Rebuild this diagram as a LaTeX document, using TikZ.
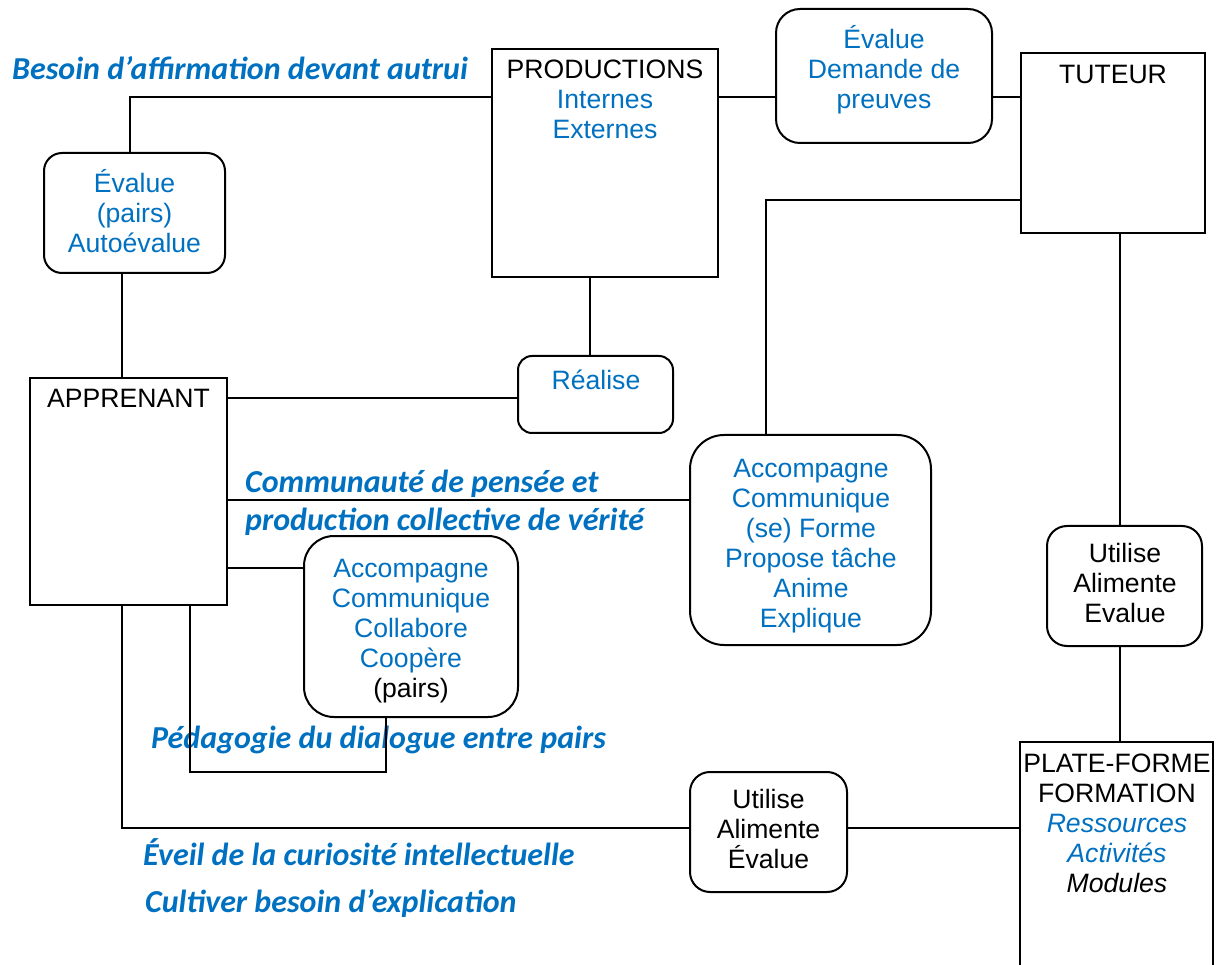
\documentclass[tikz,border=0pt]{standalone}
\usepackage{fontspec}
\setmainfont{Liberation Sans}
\newfontfamily\calfont{Carlito}
\definecolor{wblue}{HTML}{0070C0}
\tikzset{
  sq/.style={draw, line width=2pt, inner sep=0pt, outer sep=0pt},
  rnd/.style={sq, rounded corners=#1},
  txt/.style={anchor=north, align=center, inner sep=0pt, font=\fontsize{26.6}{30}\selectfont},
  bi/.style={inner sep=0pt, text=wblue, font=\calfont\bfseries\itshape\fontsize{32}{38}\selectfont},
  conn/.style={line width=2pt}
}
\begin{document}
\begin{tikzpicture}[x=1pt,y=-1pt]
\useasboundingbox (0,0) rectangle (1219,965);
\clip (0,0) rectangle (1219,965);
% boxes
\node[sq, minimum width=226pt, minimum height=228pt] (prod) at (605,163) {};
\node[rnd=18pt, minimum width=181pt, minimum height=120pt] (evL) at (134.5,213) {};
\node[rnd=24pt, minimum width=216pt, minimum height=134pt] (evT) at (884,76) {};
\node[sq, minimum width=184pt, minimum height=180pt] (tut) at (1113,143) {};
\node[sq, minimum width=197pt, minimum height=227pt] (app) at (128.5,491.5) {};
\node[rnd=14pt, minimum width=155pt, minimum height=77pt] (real) at (595.5,394.5) {};
\node[rnd=30pt, minimum width=214pt, minimum height=181pt] (pairs) at (411,626.5) {};
\node[rnd=34pt, minimum width=241pt, minimum height=210pt] (accR) at (810.5,540) {};
\node[rnd=20pt, minimum width=155pt, minimum height=120pt] (utR) at (1124.5,586) {};
\node[rnd=20pt, minimum width=157pt, minimum height=120pt] (utB) at (768.5,832) {};
\node[sq, minimum width=193pt, minimum height=260pt] (pf) at (1116.5,872) {};
% texts in boxes
\node[txt] (tprod) at (605,57) {\strut PRODUCTIONS\\\textcolor{wblue}{Internes}\\\textcolor{wblue}{Externes}};
\node[txt, text=wblue] (tevL) at (134.5,169) {\strut Évalue\\(pairs)\\Autoévalue};
\node[txt, text=wblue] (tevT) at (884,25) {\strut Évalue\\Demande de\\preuves};
\node[txt] (ttut) at (1113,62) {\strut TUTEUR};
\node[txt] (tapp) at (128.5,386) {\strut APPRENANT};
\node[txt, text=wblue] (treal) at (596,368) {\strut Réalise};
\node[txt] (tpairs) at (411,556) {\strut\textcolor{wblue}{Accompagne}\\\textcolor{wblue}{Communique}\\\textcolor{wblue}{Collabore}\\\textcolor{wblue}{Coopère}\\(pairs)};
\node[txt, text=wblue] (taccR) at (811,456) {\strut Accompagne\\Communique\\(se) Forme\\Propose tâche\\Anime\\Explique};
\node[txt] (tutR) at (1125,541) {\strut Utilise\\Alimente\\Evalue};
\node[txt] (tutB) at (768.5,787) {\strut Utilise\\Alimente\\Évalue};
\node[txt] (tpf) at (1117,751) {\strut PLATE-FORME\\FORMATION\\\textcolor{wblue}{\itshape Ressources}\\\textcolor{wblue}{\itshape Activités}\\\itshape Modules};
% free labels
\node[bi, anchor=base west] (lb1) at (12,80) {Besoin d’affirmation devant autrui};
\node[bi, anchor=north west, align=left] (lb2) at (245,465.4) {\strut Communauté de pensée et\\production collective de vérité};
\node[bi, anchor=base west] (lb3) at (151,748) {Pédagogie du dialogue entre pairs};
\node[bi, anchor=base west] (lb4) at (143,865) {Éveil de la curiosité intellectuelle};
\node[bi, anchor=base west] (lb5) at (145,912) {Cultiver besoin d’explication};
% helper coordinates
\coordinate (c1) at (130,97.5);
\coordinate (c2) at (122,200);
\coordinate (c3) at (766,200);
\coordinate (c4) at (1119.5,398);
\coordinate (c5) at (590,500);
\coordinate (c6) at (386,568);
\coordinate (c7) at (190,772);
\coordinate (c8) at (122,828);
% connectors
\draw[conn] (evL.north -| c1) |- (prod.west |- c1);
\draw[conn] (evL.south -| c2) -- (app.north -| c2);
\draw[conn] (prod.east |- c1) -- (evT.west |- c1);
\draw[conn] (evT.east |- c1) -- (tut.west |- c1);
\draw[conn] (tut.west |- c3) -| (accR.north -| c3);
\draw[conn] (tut.south -| c4) -- (utR.north -| c4);
\draw[conn] (utR.south -| c4) -- (pf.north -| c4);
\draw[conn] (prod.south -| c5) -- (real.north -| c5);
\draw[conn] (app.east |- c4) -- (real.west |- c4);
\draw[conn] (app.east |- c5) -- (accR.west |- c5);
\draw[conn] (app.east |- c6) -- (pairs.west |- c6);
\draw[conn] (pairs.south -| c6) |- (c7) -- (app.south -| c7);
\draw[conn] (app.south -| c8) |- (utB.west |- c8);
\draw[conn] (utB.east |- c8) -- (pf.west |- c8);
\end{tikzpicture}
\end{document}
